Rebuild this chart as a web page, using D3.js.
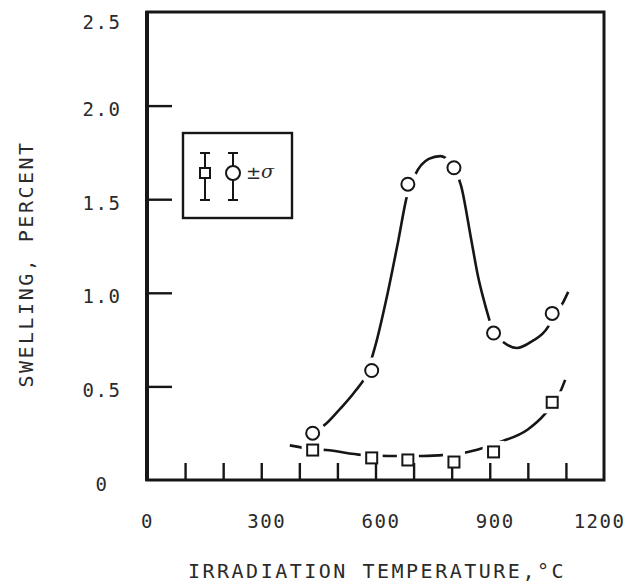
<!DOCTYPE html>
<html>
<head>
<meta charset="utf-8">
<script src="https://cdn.jsdelivr.net/npm/d3@7"></script>
<style>
  body { margin: 0; background: #fff; }
  text { fill: #2a2a2a; font-family: "DejaVu Sans Mono", monospace; }
</style>
</head>
<body>
<div id="chart"></div>
<script>
// measured points (temperature, swelling %)
const tempC = [435, 590, 685, 806, 910, 1064];
const swellCircle = [0.25, 0.585, 1.58, 1.668, 0.785, 0.89];
const swellSquare = [0.16, 0.118, 0.107, 0.096, 0.15, 0.415];

// hand-drawn fit curves
const fitCircleX = [435, 470, 507, 545, 575, 600, 630, 660, 683, 704, 740, 770, 790, 806, 825, 850, 870, 890, 911, 935, 971, 1010, 1053, 1064, 1093, 1106];
const fitCircleY = [0.25, 0.30, 0.38, 0.47, 0.56, 0.72, 0.98, 1.28, 1.52, 1.63, 1.715, 1.73, 1.71, 1.67, 1.57, 1.30, 1.08, 0.92, 0.785, 0.737, 0.705, 0.74, 0.818, 0.86, 0.95, 1.005];
const fitSquareX = [375, 436, 470, 565, 633, 725, 783, 828, 882, 927, 1000, 1045, 1085, 1098];
const fitSquareY = [0.185, 0.165, 0.16, 0.134, 0.128, 0.128, 0.134, 0.144, 0.171, 0.203, 0.27, 0.353, 0.47, 0.535];

const yTicks = [0.5, 1.0, 1.5, 2.0];
const yLabels = [0, 0.5, 1.0, 1.5, 2.0, 2.5];
const xTicks = [100, 200, 300, 400, 500, 600, 700, 800, 900, 1000, 1100];
const xLabels = [0, 300, 600, 900, 1200];

const width = 629, height = 582;
const margin = {top: 12, right: 25, bottom: 102, left: 147};
const w = width - margin.left - margin.right,
      h = height - margin.top - margin.bottom;
const ink = "#161616";

const svg = d3.select("#chart").append("svg")
    .attr("width", width)
    .attr("height", height);

const g = svg.append("g")
    .attr("transform", "translate(" + margin.left + "," + margin.top + ")");

const x = d3.scaleLinear().domain([0, 1200]).range([0, w]);
const y = d3.scaleLinear().domain([0, 2.5]).range([h, 0]);

const line = d3.line()
    .x(d => x(d[0]))
    .y(d => y(d[1]))
    .curve(d3.curveMonotoneX);

g.append("path")
    .datum(d3.zip(fitCircleX, fitCircleY))
    .attr("fill", "none").attr("stroke", ink).attr("stroke-width", 2.6)
    .attr("d", line);

g.append("path")
    .datum(d3.zip(fitSquareX, fitSquareY))
    .attr("fill", "none").attr("stroke", ink).attr("stroke-width", 2.6)
    .attr("d", line);

// white halos leave gaps in the curves around the symbols
const circles = d3.zip(tempC, swellCircle);
const squares = d3.zip(tempC, swellSquare);

g.selectAll(".halo-c").data(circles).enter().append("circle")
    .attr("cx", d => x(d[0])).attr("cy", d => y(d[1]))
    .attr("r", 13).attr("fill", "#fff");
g.selectAll(".halo-s").data(squares).enter().append("rect")
    .attr("x", d => x(d[0]) - 11).attr("y", d => y(d[1]) - 11)
    .attr("width", 22).attr("height", 22).attr("fill", "#fff");

// inward ticks
const yTickAxis = g.append("g")
    .call(d3.axisLeft(y).tickValues(yTicks).tickSize(-25).tickFormat(""));
const xTickAxis = g.append("g")
    .attr("transform", "translate(0," + h + ")")
    .call(d3.axisBottom(x).tickValues(xTicks).tickSize(-17).tickFormat(""));
[yTickAxis, xTickAxis].forEach(a => {
  a.select(".domain").remove();
  a.selectAll("line").attr("stroke", ink).attr("stroke-width", 2.4);
});

// labels
const yLab = g.append("g")
    .call(d3.axisLeft(y).tickValues(yLabels).tickSize(0)
      .tickFormat(d => d === 0 ? "0" : d3.format(".1f")(d)));
yLab.select(".domain").remove();
yLab.selectAll("text")
    .attr("x", -45)
    .attr("dy", d => d === 2.5 ? 16 : 10)
    .style("text-anchor", "middle")
    .style("font-family", "DejaVu Sans Mono")
    .style("font-size", "19px")
    .style("letter-spacing", "1.5px")
    .attr("fill", "#2a2a2a");

const xLab = g.append("g")
    .attr("transform", "translate(0," + h + ")")
    .call(d3.axisBottom(x).tickValues(xLabels).tickSize(0).tickPadding(35)
      .tickFormat(d3.format("d")));
xLab.select(".domain").remove();
xLab.selectAll("text")
    .attr("dx", d => d === 1200 ? -5 : (d === 0 ? 0 : 5))
    .style("font-family", "DejaVu Sans Mono")
    .style("font-size", "19px")
    .style("letter-spacing", "1.5px")
    .attr("fill", "#2a2a2a");

// frame
g.append("rect")
    .attr("x", 0).attr("y", 0).attr("width", w).attr("height", h)
    .attr("fill", "none").attr("stroke", ink).attr("stroke-width", 3);
g.append("line")
    .attr("x1", 0).attr("x2", 0).attr("y1", -1).attr("y2", h + 1)
    .attr("stroke", ink).attr("stroke-width", 4);

// symbols
g.selectAll(".pt-c").data(circles).enter().append("circle")
    .attr("cx", d => x(d[0])).attr("cy", d => y(d[1]))
    .attr("r", 6.5).attr("fill", "#fff").attr("stroke", ink).attr("stroke-width", 2);
g.selectAll(".pt-s").data(squares).enter().append("rect")
    .attr("x", d => x(d[0]) - 5.5).attr("y", d => y(d[1]) - 5.5)
    .attr("width", 11).attr("height", 11)
    .attr("fill", "#fff").attr("stroke", ink).attr("stroke-width", 2);

// axis titles
svg.append("text")
    .attr("x", 377).attr("y", 578)
    .attr("text-anchor", "middle")
    .style("font-size", "20px")
    .style("letter-spacing", "2.5px")
    .text("IRRADIATION TEMPERATURE,°C");

svg.append("text")
    .attr("transform", "translate(33,264) rotate(-90)")
    .attr("text-anchor", "middle")
    .style("font-size", "20px")
    .style("letter-spacing", "2.5px")
    .text("SWELLING, PERCENT");

// legend
const leg = svg.append("g").attr("transform", "translate(183,133)");
leg.append("rect")
    .attr("width", 109).attr("height", 85)
    .attr("fill", "#fff").attr("stroke", ink).attr("stroke-width", 2.4);

function errBar(cx, top, bot, half) {
  leg.append("path")
    .attr("d", "M" + (cx - 5) + "," + top + "H" + (cx + 5) +
               "M" + cx + "," + top + "V" + (40 - half) +
               "M" + cx + "," + (40 + half) + "V" + bot +
               "M" + (cx - 5) + "," + bot + "H" + (cx + 5))
    .attr("fill", "none").attr("stroke", ink).attr("stroke-width", 2);
}
errBar(22, 20, 67, 5);
errBar(50, 20, 67, 7);
leg.append("rect")
    .attr("x", 17).attr("y", 35).attr("width", 10).attr("height", 10)
    .attr("fill", "#fff").attr("stroke", ink).attr("stroke-width", 2);
leg.append("circle")
    .attr("cx", 50).attr("cy", 40).attr("r", 7)
    .attr("fill", "#fff").attr("stroke", ink).attr("stroke-width", 2);
leg.append("text")
    .attr("x", 63).attr("y", 46)
    .style("font-family", "DejaVu Sans")
    .style("font-size", "18px")
    .text("±");
leg.append("text")
    .attr("x", 78).attr("y", 45)
    .style("font-family", "DejaVu Serif")
    .style("font-style", "italic")
    .style("font-size", "19px")
    .text("σ");
</script>
</body>
</html>
